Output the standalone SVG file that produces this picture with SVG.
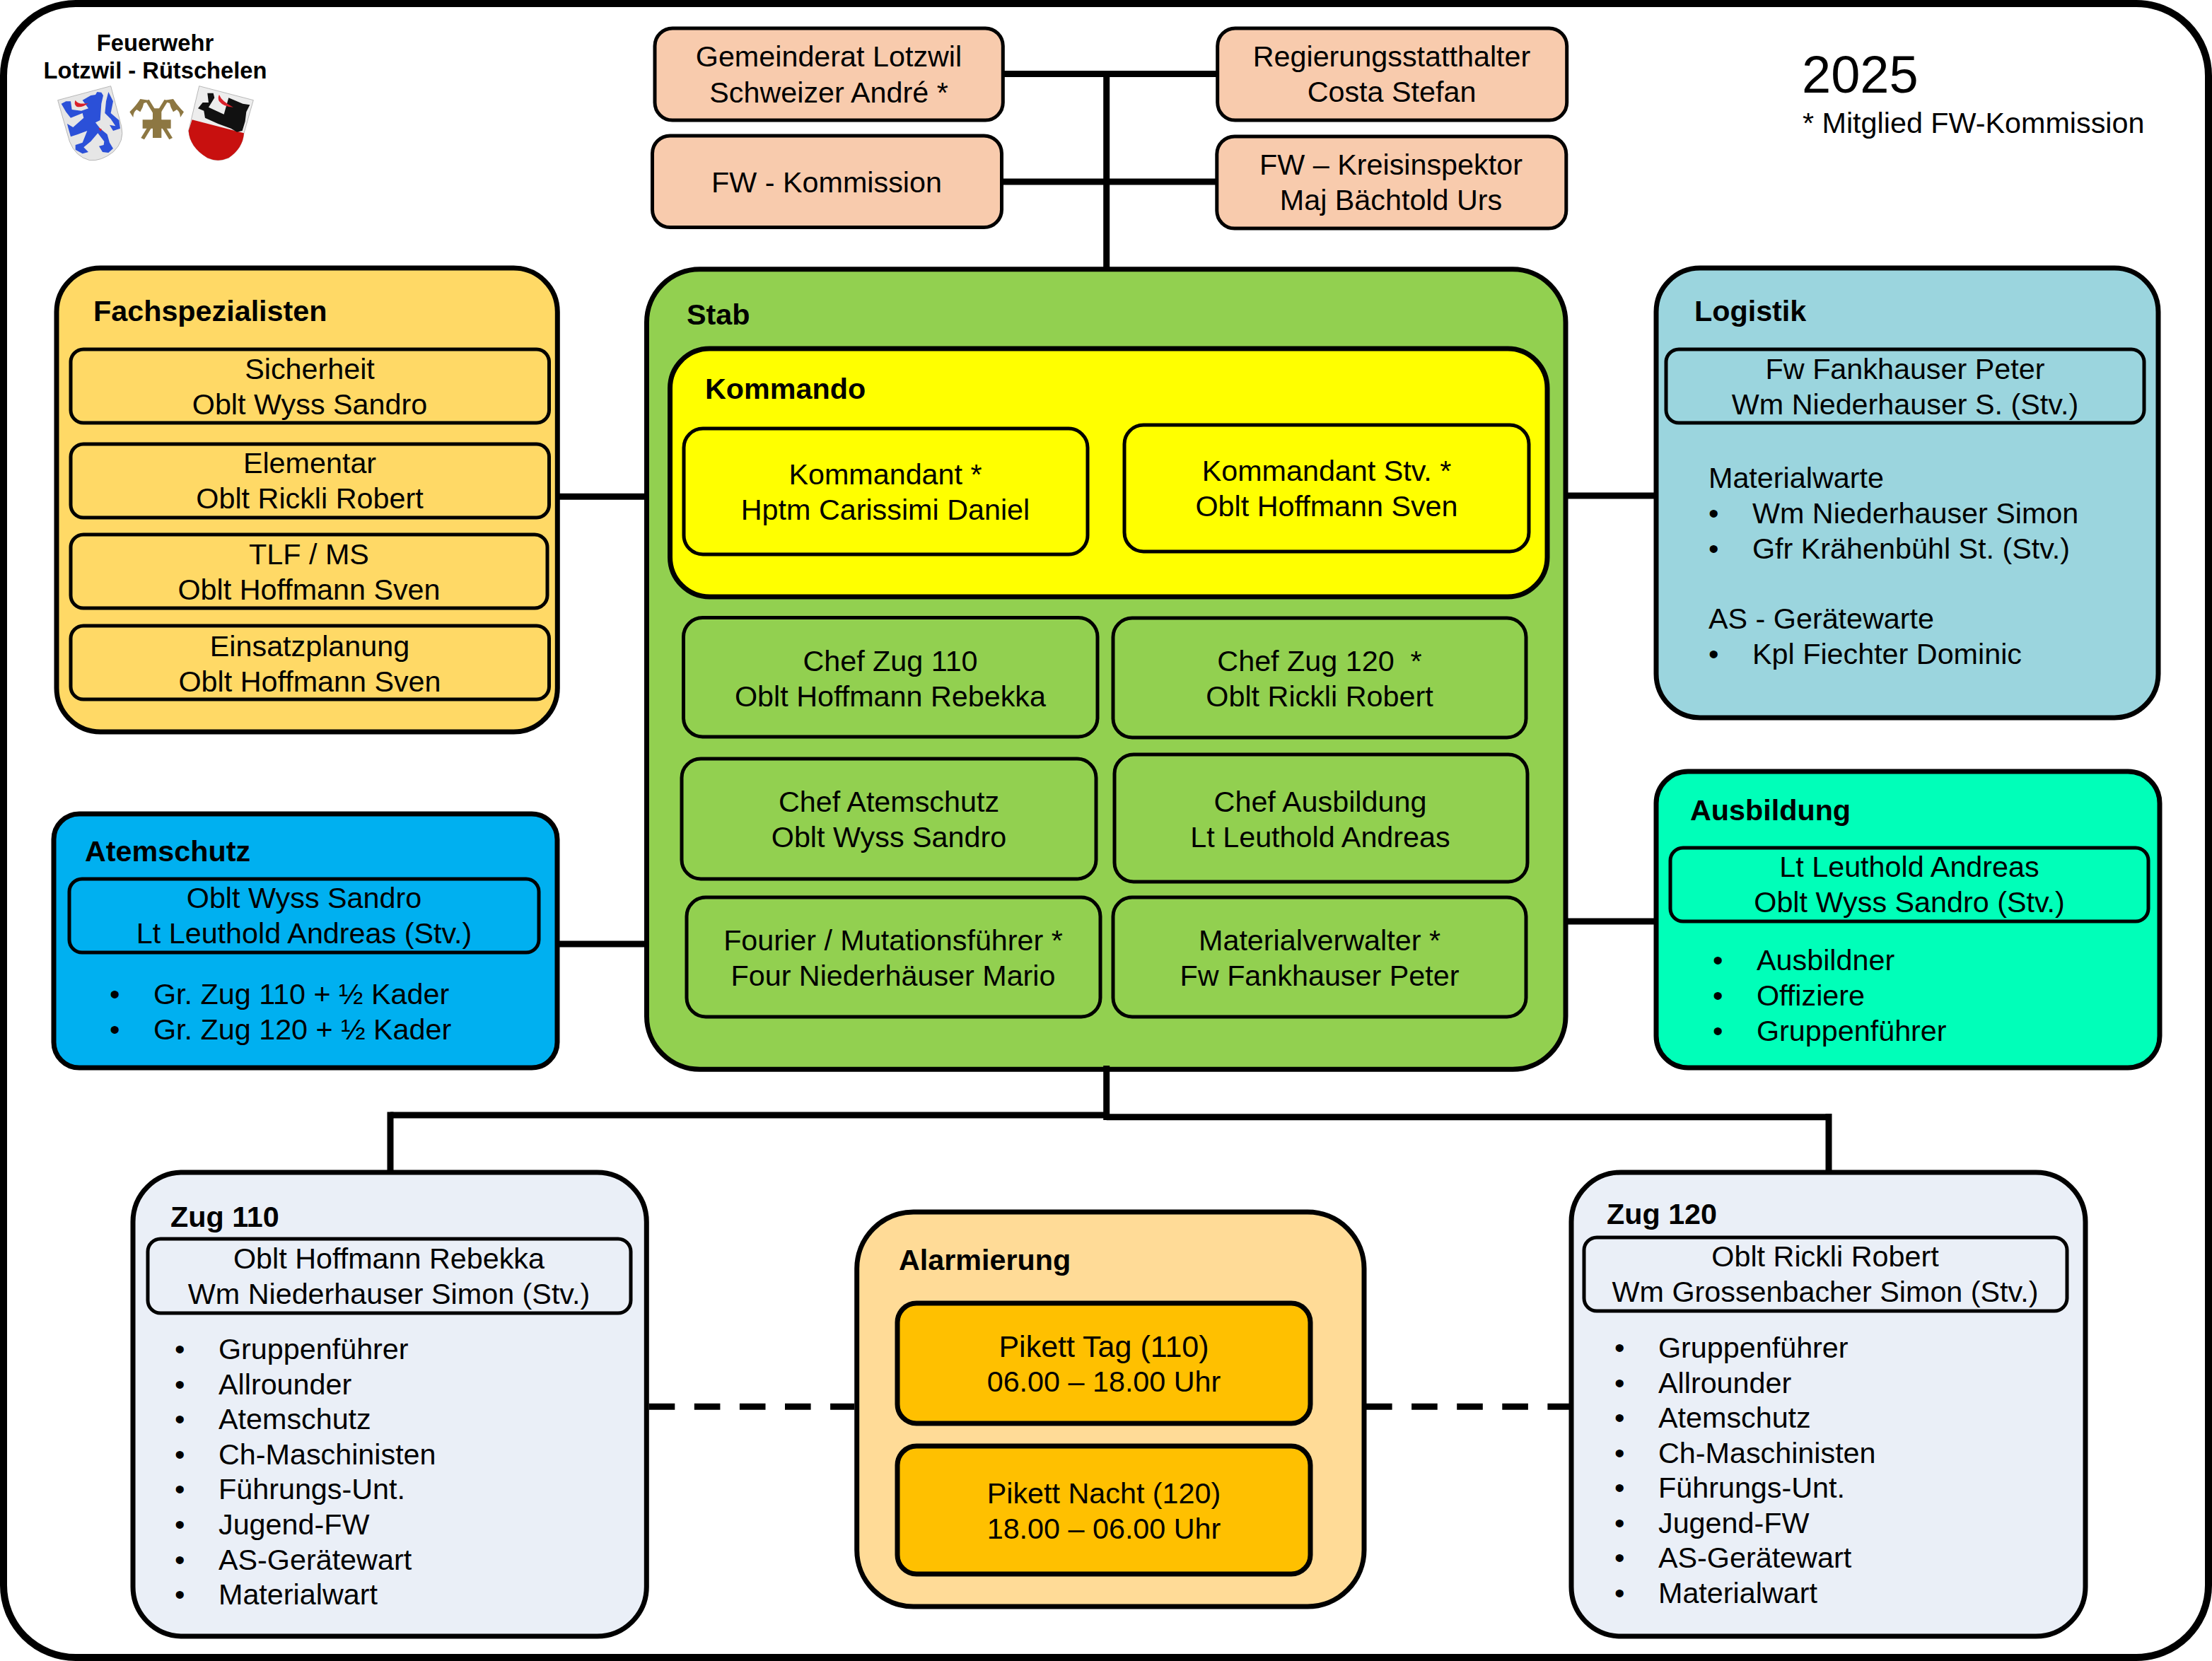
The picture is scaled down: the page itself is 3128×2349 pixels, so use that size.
<svg xmlns="http://www.w3.org/2000/svg" width="3128" height="2349" viewBox="0 0 3128 2349">
<style>
text{font-family:"Liberation Sans",Arial,sans-serif;font-size:41.300px;fill:#000;text-anchor:middle}
text.l{text-anchor:start}
text.b{font-weight:700;text-anchor:start}
text.logo{font-size:32.700px;font-weight:700}
rect{stroke:#000}
.sm{stroke-width:5}
.lg{stroke-width:7}
.peach{fill:#f8cbad}
.green{fill:#92d050}
.yellow{fill:#ff0}
.gold{fill:#ffd966}
.blue{fill:#00b0f0}
.lblue{fill:#9bd5de}
.mint{fill:#00ffb9}
.pale{fill:#eaeff7}
.tan{fill:#ffdb97}
.amber{fill:#ffc000}
#connectors line{stroke:#000;stroke-width:9;fill:none}
.bronze{fill:#8d7742}
.red{fill:#c8100f}
</style>
<rect id="frame" x="5" y="5" width="3118" height="2339" rx="102" fill="#fff" stroke-width="10"/>

<g id="logo">
<text class="logo" x="219.500" y="72">Feuerwehr</text>
<text class="logo" x="219.500" y="111">Lotzwil - Rütschelen</text>
<g transform="translate(60 110) scale(.3333)">
<path d="M65 95L290 35L335 205Q350 270 300 315Q250 355 200 350Q140 335 115 270Z" fill="#e6e6e6" stroke="#999" stroke-width="2"/>
<path d="M170 95L205 75L225 72L232 60L250 62L258 75L250 110L245 180L225 190L245 215L275 240L285 275L300 300L280 318L255 315L240 290L260 285L262 270L235 235L205 270L175 295L195 315L170 322L140 305L140 285L170 275L190 225L150 240L120 250L110 215L105 195L130 210L175 170L170 150L120 170L100 145L80 110L100 100L120 100L125 135L165 140L195 130Z" fill="#2b50d8"/>
<path d="M280 60L300 100L290 150L325 180L330 215L300 225L285 200L310 205L290 175L265 150L270 100Z" fill="#2b50d8"/>
<path d="M140 95Q150 115 195 108Q165 130 145 122Q132 110 140 95Z" fill="#d9202a"/>
<path d="M238 212L252 218L246 228Z" fill="#d9202a"/>
<path d="M438 100L452 92L552 255L538 262Z" class="bronze"/>
<path d="M532 100L518 92L418 255L432 262Z" class="bronze"/>
<path d="M370 145Q400 115 415 90L450 95L455 100L430 108L425 125L415 145L400 135Q385 145 385 168Z" class="bronze"/>
<path d="M600 145Q570 115 555 90L520 95L515 100L540 108L545 125L555 145L570 135Q585 145 585 168Z" class="bronze"/>
<path d="M468 130H505V178H545V215H505V255H468V215H425V178H468Z" class="bronze"/>
<path d="M665 35L895 95L855 235Q850 300 790 340Q745 360 700 340Q625 295 620 225Z" fill="#ededed" stroke="#999" stroke-width="2"/>
<path d="M635 178L855 235Q850 300 790 340Q745 360 700 340Q625 295 620 225Z" class="red"/>
<path d="M700 65L725 65L730 85L705 125L770 155L790 85L850 110L880 115L865 145L860 185L848 225L825 230L800 215L745 195L690 170L685 140L660 130L680 105L705 105Z" fill="#111"/>
<path d="M750 72Q760 100 810 125Q770 125 750 100Q742 85 750 72Z" fill="#d9202a"/>
</g>
</g>
<text class="l" x="2548" y="131" style="font-size:74px">2025</text>
<text class="l" x="2549" y="188">* Mitglied FW-Kommission</text>

<g id="gemeinderat"><rect class="sm peach" x="926" y="40" width="492.300" height="130" rx="25"/><text x="1172" y="93.500">Gemeinderat Lotzwil</text><text x="1172" y="144.500">Schweizer André *</text></g>
<g id="fw-kommission"><rect class="sm peach" x="922.500" y="192" width="494" height="129.500" rx="25"/><text x="1169" y="271.500">FW - Kommission</text></g>
<g id="regierung"><rect class="sm peach" x="1721.700" y="40" width="494" height="130" rx="25"/><text x="1968" y="94">Regierungsstatthalter</text><text x="1968" y="144">Costa Stefan</text></g>
<g id="kreisinspektor"><rect class="sm peach" x="1720.800" y="193" width="494" height="130" rx="25"/><text x="1967" y="247">FW – Kreisinspektor</text><text x="1967" y="297">Maj Bächtold Urs</text></g>

<g id="stab"><rect class="lg green" x="914.500" y="380.700" width="1299.500" height="1131.600" rx="75"/><text class="b" x="971" y="459">Stab</text></g>
<g id="kommando"><rect class="lg yellow" x="947.500" y="493" width="1240.500" height="351" rx="56"/><text class="b" x="997" y="564">Kommando</text></g>
<g id="kommandant"><rect class="sm yellow" x="967" y="606" width="571" height="178" rx="27"/><text x="1252" y="685">Kommandant *</text><text x="1252" y="735">Hptm Carissimi Daniel</text></g>
<g id="kommandant-stv"><rect class="sm yellow" x="1590" y="601" width="572" height="179" rx="27"/><text x="1876" y="680">Kommandant Stv. *</text><text x="1876" y="730">Oblt Hoffmann Sven</text></g>
<g id="chef-zug-110"><rect class="sm green" x="966.500" y="873.500" width="585.500" height="168.500" rx="27"/><text x="1259" y="949">Chef Zug 110</text><text x="1259" y="999">Oblt Hoffmann Rebekka</text></g>
<g id="chef-zug-120"><rect class="sm green" x="1574" y="874" width="584" height="169" rx="27"/><text x="1866" y="949" xml:space="preserve">Chef Zug 120  *</text><text x="1866" y="999">Oblt Rickli Robert</text></g>
<g id="chef-atemschutz"><rect class="sm green" x="964" y="1073" width="586" height="170" rx="27"/><text x="1257" y="1148">Chef Atemschutz</text><text x="1257" y="1198">Oblt Wyss Sandro</text></g>
<g id="chef-ausbildung"><rect class="sm green" x="1576" y="1067" width="584" height="180" rx="27"/><text x="1867" y="1148">Chef Ausbildung</text><text x="1867" y="1198">Lt Leuthold Andreas</text></g>
<g id="fourier"><rect class="sm green" x="971" y="1269" width="585" height="169" rx="27"/><text x="1263" y="1344">Fourier / Mutationsführer *</text><text x="1263" y="1394">Four Niederhäuser Mario</text></g>
<g id="materialverwalter"><rect class="sm green" x="1574" y="1269" width="584" height="169" rx="27"/><text x="1866" y="1344">Materialverwalter *</text><text x="1866" y="1394">Fw Fankhauser Peter</text></g>

<g id="fachspezialisten"><rect class="lg gold" x="80" y="379" width="708.300" height="656" rx="62"/><text class="b" x="132" y="454">Fachspezialisten</text></g>
<g id="sicherheit"><rect class="sm gold" x="100" y="494" width="676.500" height="104" rx="18"/><text x="438" y="536">Sicherheit</text><text x="438" y="586">Oblt Wyss Sandro</text></g>
<g id="elementar"><rect class="sm gold" x="100" y="628" width="676.500" height="104" rx="18"/><text x="438" y="669">Elementar</text><text x="438" y="719">Oblt Rickli Robert</text></g>
<g id="tlf"><rect class="sm gold" x="100" y="756" width="674" height="104" rx="18"/><text x="437" y="798">TLF / MS</text><text x="437" y="848">Oblt Hoffmann Sven</text></g>
<g id="einsatzplanung"><rect class="sm gold" x="100" y="885" width="676.500" height="104" rx="18"/><text x="438" y="928">Einsatzplanung</text><text x="438" y="978">Oblt Hoffmann Sven</text></g>

<g id="atemschutz"><rect class="lg blue" x="76" y="1151" width="712" height="359" rx="36"/><text class="b" x="120" y="1218">Atemschutz</text>
<rect class="sm blue" x="98" y="1243" width="664" height="104" rx="18"/><text x="430" y="1284">Oblt Wyss Sandro</text><text x="430" y="1334">Lt Leuthold Andreas (Stv.)</text>
<text class="l" x="155" y="1420">•</text><text class="l" x="217" y="1420">Gr. Zug 110 + ½ Kader</text>
<text class="l" x="155" y="1470">•</text><text class="l" x="217" y="1470">Gr. Zug 120 + ½ Kader</text></g>

<g id="logistik"><rect class="lg lblue" x="2342" y="379" width="710" height="636" rx="62"/><text class="b" x="2396" y="454">Logistik</text>
<rect class="sm lblue" x="2356" y="494" width="676" height="104" rx="18"/><text x="2694" y="536">Fw Fankhauser Peter</text><text x="2694" y="586">Wm Niederhauser S. (Stv.)</text>
<text class="l" x="2416" y="690">Materialwarte</text>
<text class="l" x="2416" y="740">•</text><text class="l" x="2478" y="740">Wm Niederhauser Simon</text>
<text class="l" x="2416" y="790">•</text><text class="l" x="2478" y="790">Gfr Krähenbühl St. (Stv.)</text>
<text class="l" x="2416" y="889">AS - Gerätewarte</text>
<text class="l" x="2416" y="939">•</text><text class="l" x="2478" y="939">Kpl Fiechter Dominic</text></g>

<g id="ausbildung"><rect class="lg mint" x="2342" y="1091" width="712" height="419" rx="45"/><text class="b" x="2390" y="1160">Ausbildung</text>
<rect class="sm mint" x="2362" y="1199" width="676" height="104" rx="18"/><text x="2700" y="1240">Lt Leuthold Andreas</text><text x="2700" y="1290">Oblt Wyss Sandro (Stv.)</text>
<text class="l" x="2422" y="1372">•</text><text class="l" x="2484" y="1372">Ausbildner</text>
<text class="l" x="2422" y="1422">•</text><text class="l" x="2484" y="1422">Offiziere</text>
<text class="l" x="2422" y="1472">•</text><text class="l" x="2484" y="1472">Gruppenführer</text></g>

<g id="zug-110"><rect class="lg pale" x="188" y="1658" width="726.300" height="656" rx="70"/><text class="b" x="241" y="1735">Zug 110</text>
<rect class="sm pale" x="209" y="1752" width="683" height="105" rx="18"/><text x="550" y="1794">Oblt Hoffmann Rebekka</text><text x="550" y="1844">Wm Niederhauser Simon (Stv.)</text>
<text class="l" x="247" y="1922">•</text><text class="l" x="309" y="1922">Gruppenführer</text>
<text class="l" x="247" y="1971.600">•</text><text class="l" x="309" y="1971.600">Allrounder</text>
<text class="l" x="247" y="2021.200">•</text><text class="l" x="309" y="2021.200">Atemschutz</text>
<text class="l" x="247" y="2070.800">•</text><text class="l" x="309" y="2070.800">Ch-Maschinisten</text>
<text class="l" x="247" y="2120.400">•</text><text class="l" x="309" y="2120.400">Führungs-Unt.</text>
<text class="l" x="247" y="2170">•</text><text class="l" x="309" y="2170">Jugend-FW</text>
<text class="l" x="247" y="2219.600">•</text><text class="l" x="309" y="2219.600">AS-Gerätewart</text>
<text class="l" x="247" y="2269.200">•</text><text class="l" x="309" y="2269.200">Materialwart</text></g>

<g id="alarmierung"><rect class="lg tan" x="1211.700" y="1714" width="717.300" height="558" rx="80"/><text class="b" x="1271" y="1796">Alarmierung</text></g>
<g id="pikett-tag"><rect class="lg amber" x="1269" y="1843" width="584" height="170" rx="27"/><text x="1561" y="1919" style="font-size:43px">Pikett Tag (110)</text><text x="1561" y="1968">06.00 – 18.00 Uhr</text></g>
<g id="pikett-nacht"><rect class="lg amber" x="1269" y="2045" width="584" height="181" rx="27"/><text x="1561" y="2126">Pikett Nacht (120)</text><text x="1561" y="2176">18.00 – 06.00 Uhr</text></g>

<g id="zug-120"><rect class="lg pale" x="2222" y="1658" width="727" height="656" rx="70"/><text class="b" x="2272" y="1731">Zug 120</text>
<rect class="sm pale" x="2240" y="1750" width="683" height="104" rx="18"/><text x="2581" y="1791">Oblt Rickli Robert</text><text x="2581" y="1841">Wm Grossenbacher Simon (Stv.)</text>
<text class="l" x="2283" y="1920">•</text><text class="l" x="2345" y="1920">Gruppenführer</text>
<text class="l" x="2283" y="1969.500">•</text><text class="l" x="2345" y="1969.500">Allrounder</text>
<text class="l" x="2283" y="2019">•</text><text class="l" x="2345" y="2019">Atemschutz</text>
<text class="l" x="2283" y="2068.500">•</text><text class="l" x="2345" y="2068.500">Ch-Maschinisten</text>
<text class="l" x="2283" y="2118">•</text><text class="l" x="2345" y="2118">Führungs-Unt.</text>
<text class="l" x="2283" y="2167.500">•</text><text class="l" x="2345" y="2167.500">Jugend-FW</text>
<text class="l" x="2283" y="2217">•</text><text class="l" x="2345" y="2217">AS-Gerätewart</text>
<text class="l" x="2283" y="2266.500">•</text><text class="l" x="2345" y="2266.500">Materialwart</text></g>

<g id="connectors">
<line x1="1420" y1="104.500" x2="1720" y2="104.500"/>
<line x1="1418" y1="257" x2="1719" y2="257"/>
<line x1="1564.700" y1="100" x2="1564.700" y2="378"/>
<line x1="791" y1="702.300" x2="912" y2="702.300"/>
<line x1="791" y1="1335" x2="912" y2="1335"/>
<line x1="2217" y1="701" x2="2339" y2="701"/>
<line x1="2217" y1="1303" x2="2339" y2="1303"/>
<line x1="1564.700" y1="1507" x2="1564.700" y2="1584"/>
<line x1="552" y1="1577" x2="1564.700" y2="1577"/>
<line x1="1564.700" y1="1579.700" x2="2586" y2="1579.700"/>
<line x1="552" y1="1572.500" x2="552" y2="1655"/>
<line x1="2586" y1="1575" x2="2586" y2="1655"/>
<line x1="917.700" y1="1989.300" x2="1208" y2="1989.300" stroke-dasharray="36.600 27.500"/>
<line x1="1932" y1="1989.300" x2="2219" y2="1989.300" stroke-dasharray="36.600 27.500"/>
</g>
</svg>
